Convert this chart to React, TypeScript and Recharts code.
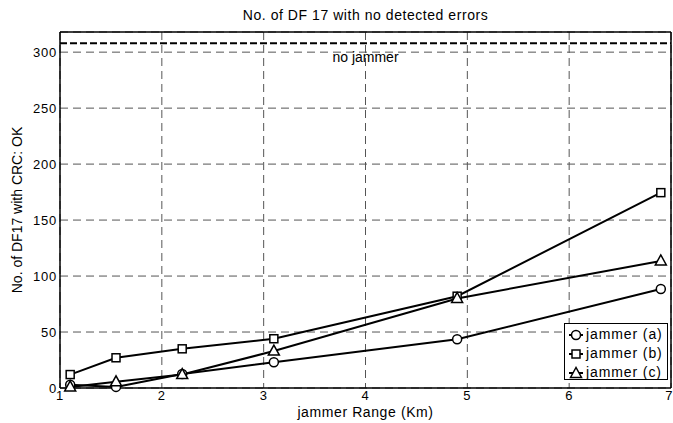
import { LineChart, Line, XAxis, YAxis, CartesianGrid, ReferenceLine } from "recharts";

const xKm = [1.1, 1.55, 2.2, 3.1, 4.9, 6.9];
const jammerA = [3, 1, 12.5, 23, 43.5, 88.5];
const jammerB = [12, 27, 35, 44, 82, 174.5];
const jammerC = [1, 5.5, 12, 33, 80, 113.5];
const noJammer = 308;

const xTicks = [1, 2, 3, 4, 5, 6, 7];
const yTicks = [0, 50, 100, 150, 200, 250, 300];

const data = xKm.map((x, i) => ({ x, a: jammerA[i], b: jammerB[i], c: jammerC[i] }));

const FONT = "'Liberation Sans', Arial, Helvetica, sans-serif";
const TICK = { fontSize: 13, fill: "#000", fontFamily: FONT, letterSpacing: 0.8 };

const CircleDot = (p: any) => (
  <circle key={p.index} cx={p.cx} cy={p.cy} r={4.5} fill="#fff" stroke="#000" strokeWidth={1.5} />
);
const SquareDot = (p: any) => (
  <rect key={p.index} x={p.cx - 4} y={p.cy - 4} width={8} height={8} fill="#fff" stroke="#000" strokeWidth={1.5} />
);
const TriangleDot = (p: any) => (
  <polygon
    key={p.index}
    points={`${p.cx},${p.cy - 6} ${p.cx - 5.5},${p.cy + 4} ${p.cx + 5.5},${p.cy + 4}`}
    fill="#fff"
    stroke="#000"
    strokeWidth={1.5}
  />
);

const legendItems = [
  { name: "jammer (a)", shape: "circle" },
  { name: "jammer (b)", shape: "square" },
  { name: "jammer (c)", shape: "triangle" },
];

function LegendMarker({ shape }: { shape: string }) {
  return (
    <svg width={16} height={14} style={{ display: "block" }}>
      <line x1={1} y1={7} x2={15} y2={7} stroke="#000" strokeWidth={2} />
      {shape === "circle" && <circle cx={8} cy={7} r={4.5} fill="#fff" stroke="#000" strokeWidth={1.5} />}
      {shape === "square" && <rect x={4} y={3} width={8} height={8} fill="#fff" stroke="#000" strokeWidth={1.5} />}
      {shape === "triangle" && <polygon points="8,1.5 2.5,11.5 13.5,11.5" fill="#fff" stroke="#000" strokeWidth={1.5} />}
    </svg>
  );
}

export default function App() {
  return (
    <div style={{ position: "absolute", left: 0, top: 0, width: 673, height: 423, background: "#fff", fontFamily: FONT }}>
      <div
        style={{
          position: "absolute",
          left: 60,
          width: 611,
          top: 8,
          textAlign: "center",
          fontSize: 14,
          lineHeight: "14px",
          letterSpacing: 0.55,
          color: "#000",
        }}
      >
        No. of DF 17 with no detected errors
      </div>
      <LineChart width={673} height={423} data={data} margin={{ top: 32, right: 2, bottom: 0, left: 0 }}>
        <CartesianGrid stroke="#555" strokeDasharray="8 5" />
        <XAxis
          dataKey="x"
          type="number"
          domain={[1, 7]}
          ticks={xTicks}
          height={35}
          axisLine={{ stroke: "#000", strokeWidth: 1.5 }}
          tickLine={false}
          tickSize={0}
          tickMargin={3}
          tick={TICK}
          label={{
            value: "jammer Range (Km)",
            position: "insideBottom",
            offset: 6,
            style: { fontSize: 14, fill: "#000", fontFamily: FONT, letterSpacing: 0.6 },
          }}
        />
        <XAxis
          xAxisId="inner"
          dataKey="x"
          type="number"
          domain={[1, 7]}
          ticks={xTicks}
          orientation="bottom"
          mirror
          axisLine={false}
          tick={false}
          tickSize={5}
          tickLine={{ stroke: "#000" }}
        />
        <XAxis
          xAxisId="top"
          dataKey="x"
          type="number"
          domain={[1, 7]}
          ticks={xTicks}
          orientation="top"
          mirror
          axisLine={{ stroke: "#000", strokeWidth: 1.5 }}
          tick={false}
          tickSize={5}
          tickLine={{ stroke: "#000" }}
        />
        <YAxis
          type="number"
          domain={[0, 318]}
          ticks={yTicks}
          width={60}
          axisLine={{ stroke: "#000", strokeWidth: 1.5 }}
          tickLine={false}
          tickSize={0}
          tickMargin={3}
          tick={TICK}
          label={{
            value: "No. of DF17 with CRC: OK",
            angle: -90,
            position: "insideLeft",
            offset: 17,
            style: { fontSize: 14, fill: "#000", fontFamily: FONT, textAnchor: "middle" },
          }}
        />
        <YAxis
          yAxisId="inner"
          type="number"
          domain={[0, 318]}
          ticks={yTicks}
          orientation="left"
          mirror
          axisLine={false}
          tick={false}
          tickSize={5}
          tickLine={{ stroke: "#000" }}
        />
        <YAxis
          yAxisId="right"
          type="number"
          domain={[0, 318]}
          ticks={yTicks}
          orientation="right"
          mirror
          axisLine={{ stroke: "#000", strokeWidth: 1.5 }}
          tick={false}
          tickSize={5}
          tickLine={{ stroke: "#000" }}
        />
        <ReferenceLine
          y={noJammer}
          stroke="#000"
          strokeWidth={2}
          strokeDasharray="7 3"
          label={{
            value: "no jammer",
            position: "bottom",
            offset: 9,
            style: { fontSize: 14, fill: "#000", fontFamily: FONT },
          }}
        />
        <Line dataKey="a" stroke="#000" strokeWidth={2} dot={CircleDot} isAnimationActive={false} />
        <Line dataKey="b" stroke="#000" strokeWidth={2} dot={SquareDot} isAnimationActive={false} />
        <Line dataKey="c" stroke="#000" strokeWidth={2} dot={TriangleDot} isAnimationActive={false} />
      </LineChart>
      <div
        style={{
          position: "absolute",
          left: 564,
          top: 323,
          width: 104,
          height: 57,
          border: "1px solid #000",
          background: "#fff",
          padding: "1px 0 0 3px",
          boxSizing: "border-box",
        }}
      >
        {legendItems.map((it) => (
          <div
            key={it.name}
            style={{ display: "flex", alignItems: "center", height: 19, fontSize: 14, lineHeight: "19px", letterSpacing: 0.9 }}
          >
            <LegendMarker shape={it.shape} />
            <span style={{ marginLeft: 2 }}>{it.name}</span>
          </div>
        ))}
      </div>
    </div>
  );
}
